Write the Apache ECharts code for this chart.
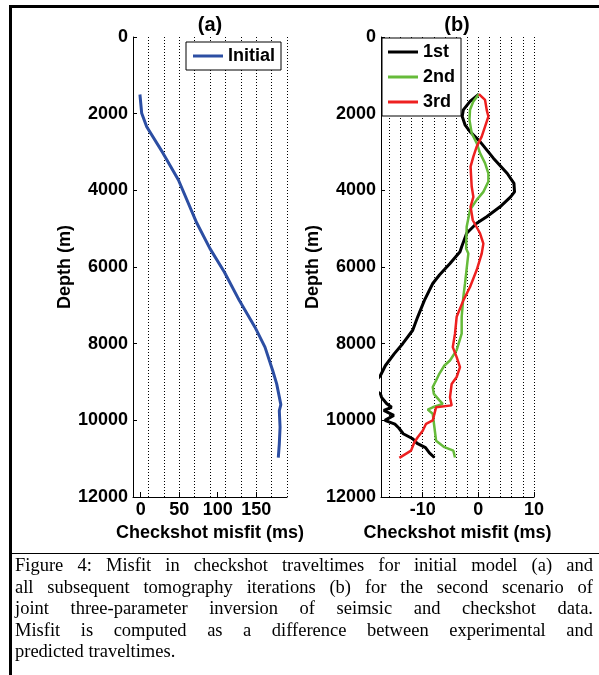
<!DOCTYPE html>
<html>
<head>
<meta charset="utf-8">
<script src="https://cdn.jsdelivr.net/npm/echarts@6/dist/echarts.min.js"></script>
<style>
  body { margin: 0; background: #fff; }
  #page { position: relative; width: 599px; height: 675px; background: #fff; overflow: hidden; }
  #chart { position: absolute; left: 0; top: 0; width: 599px; height: 553px; }
  .rule { position: absolute; background: #000; }
  #caption { position: absolute; left: 15px; top: 555px; width: 578px;
    font-family: "Liberation Serif", "Times New Roman", serif; font-size: 18.5px; line-height: 21.5px; color: #000; }
  #caption div { text-align: justify; text-align-last: justify; white-space: nowrap; }
  #caption div.last { text-align: left; text-align-last: left; }
</style>
</head>
<body>
<div id="page">
  <div id="chart"></div>
  <div class="rule" style="left:9px;top:5px;width:590px;height:3px"></div>
  <div class="rule" style="left:9px;top:5px;width:3px;height:670px"></div>
  <div class="rule" style="left:10px;top:553px;width:589px;height:1px"></div>
  <div id="caption">
    <div>Figure 4: Misfit in checkshot traveltimes for initial model (a) and</div>
    <div>all subsequent tomography iterations (b) for the second scenario of</div>
    <div>joint three-parameter inversion of seimsic and checkshot data.</div>
    <div>Misfit is computed as a difference between experimental and</div>
    <div class="last">predicted traveltimes.</div>
  </div>
</div>
<script>
// 축 눈금 / 격자
var depthTicks = [0, 2000, 4000, 6000, 8000, 10000, 12000];
var ticksA = [0, 50, 100, 150];
var gridA = [10, 30, 50, 70, 90, 110, 130, 150, 170, 190];
var ticksB = [-10, 0, 10];
var gridB = [-16, -14, -12, -10, -8, -6, -4, -2, 0, 2, 4, 6, 8, 10];

// (a) Initial
var depthA = [1500, 1990, 2340, 3030, 3730, 4860, 5520, 6130, 6870, 7570, 8090, 8700, 9050, 9590, 9750, 10180, 10620, 10970];
var misfitA = [-1, 1.3, 7.8, 29, 49, 73, 90, 108.6, 128, 148.4, 161.4, 171.4, 176.6, 182, 180, 181, 180, 178.7];

// (b) 1st
var depth1 = [1490, 1680, 1900, 2075, 2290, 2470, 2730, 3160, 3560, 3820, 4040, 4170, 4430, 4690, 4860, 5120, 5470, 5600, 5910, 6210, 6430, 6870, 7300, 7650, 8000, 8260, 8570, 8830, 8950, 9100, 9250, 9310, 9400, 9560, 9660, 9740, 9870, 10000, 10100, 10200, 10350, 10480, 10600, 10710, 10850, 10970];
var misfit1 = [0.1, -1.5, -2.7, -2.9, -2.4, -1.5, 0.3, 2.7, 5.2, 6.4, 6.5, 5.8, 3.9, 1.5, -0.3, -2.1, -3.0, -3.3, -5.1, -7.0, -8.2, -9.7, -10.9, -11.8, -13.6, -15.1, -16.7, -17.6, -18.3, -18.8, -18.2, -17.6, -17.4, -16.5, -15.6, -17.0, -15.2, -16.8, -15.0, -14.3, -13.5, -11.8, -11.0, -9.5, -8.8, -7.9];

// (b) 2nd
var depth2 = [1490, 1680, 1900, 2160, 2510, 2770, 3030, 3290, 3560, 3770, 4040, 4250, 4510, 4950, 5520, 5650, 6430, 6780, 7300, 7740, 8170, 8440, 8570, 8780, 8960, 9130, 9310, 9480, 9570, 9660, 9720, 9830, 10180, 10530, 10700, 10790, 10970];
var misfit2 = [0.1, -0.9, -1.5, -1.6, -1.2, -0.3, 0.3, 1.2, 1.8, 1.8, 0.9, -0.3, -1.5, -2.1, -2.2, -1.8, -2.4, -2.7, -3.0, -3.0, -3.9, -5.1, -6.1, -7.0, -7.6, -8.2, -8.0, -7.0, -6.4, -8.2, -9.1, -8.2, -7.9, -7.6, -6.1, -4.5, -4.2];

// (b) 3rd
var depth3 = [1490, 1640, 1900, 2075, 2340, 2600, 2860, 3120, 3380, 3900, 4170, 4430, 4780, 5120, 5390, 5650, 6080, 6520, 6870, 7300, 7740, 8090, 8350, 8610, 8870, 9050, 9400, 9610, 9660, 9830, 10000, 10090, 10270, 10440, 10570, 10790, 10980];
var misfit3 = [0.1, 1.2, 1.5, 1.8, 1.2, 0.6, -0.3, -0.9, -1.4, -1.2, -0.9, -1.4, -1.0, 0.3, 0.9, 0.6, -0.3, -1.5, -2.7, -3.9, -4.2, -4.6, -3.9, -3.3, -3.9, -4.8, -5.1, -4.8, -7.6, -7.9, -8.2, -9.4, -10.0, -10.9, -11.5, -12.1, -14.2];

var FONT = '"Liberation Sans", Arial, sans-serif';

var pairs = function(xs, ys) {
  return xs.map(function(x, i) { return [x, ys[i]]; });
};

var labelStyle = { color: '#000', fontSize: 18, fontWeight: 'bold', fontFamily: FONT };
var plainNum = function(v) { return String(v); };

// 값 축 (눈금 + 라벨)
var mainXAxis = function(gridIndex, min, max, ticks) {
  return {
    type: 'value', gridIndex: gridIndex, min: min, max: max, position: 'bottom',
    axisLine: { show: true, onZero: false, lineStyle: { color: '#000', width: 1 } },
    axisTick: { show: true, inside: true, length: 5, customValues: ticks, lineStyle: { color: '#000' } },
    axisLabel: Object.assign({ margin: 4, customValues: ticks, formatter: plainNum }, labelStyle),
    splitLine: { show: false },
    name: 'Checkshot misfit (ms)', nameLocation: 'middle', nameGap: 22,
    nameTextStyle: labelStyle
  };
};

// 점선 격자 전용 축
var gridXAxis = function(gridIndex, min, max, lines) {
  return {
    type: 'value', gridIndex: gridIndex, min: min, max: max, position: 'top',
    axisLine: { show: false },
    axisTick: { show: false, customValues: lines },
    axisLabel: { show: false },
    splitLine: { show: true, lineStyle: { color: '#000', width: 1, type: [1, 2] } }
  };
};

var depthAxis = function(gridIndex) {
  return {
    type: 'value', gridIndex: gridIndex, inverse: true, min: 0, max: 12000,
    axisLine: { show: true, onZero: false, lineStyle: { color: '#000', width: 1 } },
    axisTick: { show: true, inside: true, length: 4, customValues: depthTicks, lineStyle: { color: '#000' } },
    axisLabel: Object.assign({ margin: 5, customValues: depthTicks, formatter: plainNum }, labelStyle),
    splitLine: { show: false },
    name: 'Depth (m)', nameLocation: 'middle', nameGap: 58,
    nameTextStyle: labelStyle
  };
};

var lineSeries = function(name, axisIdx, xs, ys, color, width) {
  return {
    name: name, type: 'line', xAxisIndex: axisIdx, yAxisIndex: axisIdx === 0 ? 0 : 1,
    data: pairs(xs, ys), symbol: 'none', showSymbol: false, smooth: false, animation: false,
    lineStyle: { color: color, width: width }, itemStyle: { color: color }
  };
};

var legendBase = {
  orient: 'vertical', backgroundColor: '#fff', borderColor: '#000', borderWidth: 1, borderRadius: 0,
  itemWidth: 30, itemHeight: 3, itemGap: 7, textStyle: labelStyle, selectedMode: false
};

var myChart = echarts.init(document.getElementById('chart'), null, { renderer: 'canvas' });

var option = {
  backgroundColor: '#fff',
  animation: false,
  title: [
    { text: '(a)', left: 210, top: 15, textAlign: 'center', padding: 0,
      textStyle: { color: '#000', fontSize: 20, fontWeight: 'bold', fontFamily: FONT } },
    { text: '(b)', left: 457, top: 15, textAlign: 'center', padding: 0,
      textStyle: { color: '#000', fontSize: 20, fontWeight: 'bold', fontFamily: FONT } }
  ],
  grid: [
    { left: 133, top: 37, width: 154, height: 460, outerBoundsMode: 'none' },
    { left: 381, top: 37, width: 153, height: 460, outerBoundsMode: 'none' }
  ],
  legend: [
    Object.assign({}, legendBase, {
      data: [{ name: 'Initial', icon: 'rect' }],
      left: 186, top: 42, padding: [5, 6, 5, 7]
    }),
    Object.assign({}, legendBase, {
      data: [{ name: '1st', icon: 'rect' }, { name: '2nd', icon: 'rect' }, { name: '3rd', icon: 'rect' }],
      left: 382, top: 38, padding: [5, 6, 5, 6]
    })
  ],
  xAxis: [
    mainXAxis(0, -10, 190, ticksA),
    mainXAxis(1, -17.5, 10, ticksB),
    gridXAxis(0, -10, 190, gridA),
    gridXAxis(1, -17.5, 10, gridB)
  ],
  yAxis: [depthAxis(0), depthAxis(1)],
  series: [
    lineSeries('Initial', 0, misfitA, depthA, '#2c4ea3', 3),
    lineSeries('1st', 1, misfit1, depth1, '#000000', 3),
    lineSeries('2nd', 1, misfit2, depth2, '#66bb3a', 2.5),
    lineSeries('3rd', 1, misfit3, depth3, '#ee2020', 2.5)
  ]
};

myChart.setOption(option);
</script>
</body>
</html>
